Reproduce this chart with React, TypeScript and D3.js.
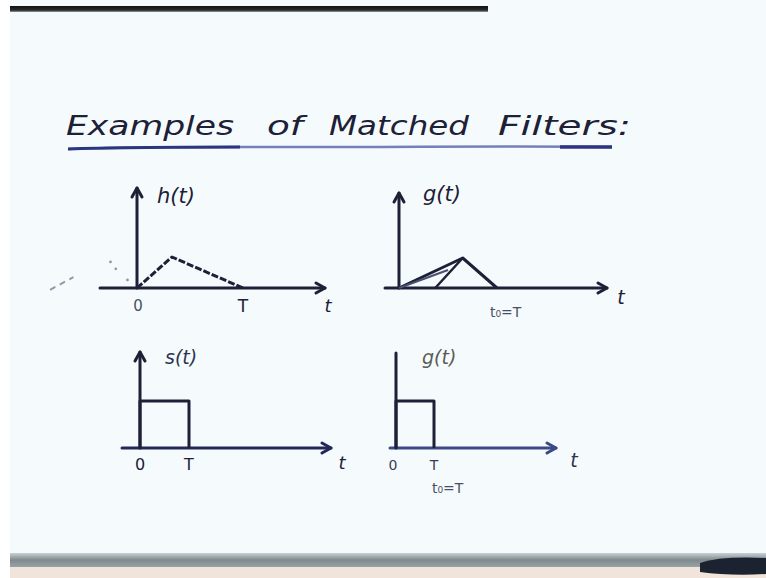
import React from "react";
import * as d3 from "d3";

// Title words of the board heading
const TITLE_WORDS = ["Examples", "of", "Matched", "Filters:"];
const TITLE_X = [66, 267, 329, 498];
const TITLE_W = [168, 36, 140, 133];

// h(t): triangular impulse response, time in units of T
const H_T = [0, 0.33, 1];
const H_V = [0, 1, 0];
// faint sketch of the mirrored pulse left of the origin
const H_GHOST_T = [-0.82, -0.6];
const H_GHOST_V = [-0.06, 0.35];
const H_DOTS_T = [-0.25, -0.2, -0.09];
const H_DOTS_V = [0.84, 0.62, 0.26];

// g(t): filter output for the triangular pulse
const G_T = [0, 0.65, 1];
const G_V = [0, 1, 0];
const G_INNER_T = [0.37, 0.65];
const G_INNER_V = [0, 1];
const G_MID_T = [0, 0.5];
const G_MID_V = [0, 0.6];

// s(t) and g(t): rectangular pulse of width T
const S_T = [0, 0, 1, 1];
const S_V = [0, 1, 1, 0];

const INK = "#1d2036";
const BG = "#f5fbfd";

type Panel = {
  x0: number; // origin x
  y0: number; // origin y
  tPx: number; // pixels for one T
  vPx: number; // pixels for unit height
  axisLeft: number;
  axisRight: number;
  axisTop: number;
  yArrow: boolean;
  axisColor: string;
};

const P1: Panel = { x0: 137, y0: 288, tPx: 106, vPx: 31, axisLeft: 100, axisRight: 325, axisTop: 188, yArrow: true, axisColor: INK };
const P2: Panel = { x0: 399, y0: 288, tPx: 98, vPx: 30, axisLeft: 385, axisRight: 607, axisTop: 193, yArrow: true, axisColor: INK };
const P3: Panel = { x0: 140, y0: 448, tPx: 49, vPx: 47, axisLeft: 122, axisRight: 331, axisTop: 352, yArrow: true, axisColor: "#22285a" };
const P4: Panel = { x0: 396, y0: 448, tPx: 38, vPx: 47, axisLeft: 390, axisRight: 556, axisTop: 353, yArrow: false, axisColor: "#3b4a86" };

function scales(p: Panel) {
  const x = d3.scaleLinear().domain([0, 1]).range([p.x0, p.x0 + p.tPx]);
  const y = d3.scaleLinear().domain([0, 1]).range([p.y0, p.y0 - p.vPx]);
  return { x, y };
}

function curve(p: Panel, ts: number[], vs: number[]) {
  const { x, y } = scales(p);
  const pts: [number, number][] = ts.map((t, i) => [x(t), y(vs[i])]);
  return d3.line()(pts) || "";
}

function Axes({ p }: { p: Panel }) {
  const r = p.axisRight;
  const y = p.y0;
  return (
    <g fill="none" strokeLinecap="round" strokeLinejoin="round">
      <line x1={p.axisLeft} y1={y} x2={r} y2={y} stroke={p.axisColor} strokeWidth={3} />
      <path d={`M${r - 9},${y - 5} L${r},${y} L${r - 9},${y + 5}`} stroke={p.axisColor} strokeWidth={3} />
      <line x1={p.x0} y1={y} x2={p.x0} y2={p.axisTop} stroke={INK} strokeWidth={3} />
      {p.yArrow && (
        <path d={`M${p.x0 - 5},${p.axisTop + 9} L${p.x0},${p.axisTop} L${p.x0 + 5},${p.axisTop + 9}`} stroke={INK} strokeWidth={3} />
      )}
    </g>
  );
}

const hand = "'DejaVu Sans', sans-serif";

export default function App() {
  const s1 = scales(P1);
  return (
    <svg width={766} height={578} style={{ position: "absolute", left: 0, top: 0 }} fontFamily={hand}>
      <defs>
        <linearGradient id="band" x1="0" y1="0" x2="0" y2="1">
          <stop offset="0" stopColor="#c9d1d3" />
          <stop offset="0.5" stopColor="#7f8a8e" />
          <stop offset="1" stopColor="#9aa2a3" />
        </linearGradient>
        <linearGradient id="topbar" x1="0" y1="0" x2="0" y2="1">
          <stop offset="0" stopColor="#101010" />
          <stop offset="0.7" stopColor="#2a2a2a" />
          <stop offset="1" stopColor="#9aa0a2" />
        </linearGradient>
      </defs>
      <rect width={766} height={578} fill={BG} />
      <rect x={0} y={0} width={10} height={578} fill="#ffffff" />

      {/* board frame */}
      <rect x={10} y={6} width={478} height={6} fill="url(#topbar)" />
      <rect x={10} y={553} width={756} height={14} fill="url(#band)" />
      <rect x={10} y={567} width={756} height={11} fill="#f1e4da" />
      <path d="M700,563 Q720,556 766,558 L766,574 Q730,576 700,572 Z" fill="#1b2330" />

      {/* heading */}
      <g fill={INK} fontSize={26} fontStyle="italic">
        {TITLE_WORDS.map((w, i) => (
          <text key={w} x={TITLE_X[i]} y={135} textLength={TITLE_W[i]} lengthAdjust="spacingAndGlyphs">
            {w}
          </text>
        ))}
      </g>
      <path d="M68,149 C150,146 240,147 330,147 S520,146 612,147" stroke="#4a55a0" strokeWidth={2.5} fill="none" opacity={0.75} />
      <path d="M68,149 C120,147 190,147 240,147" stroke="#2c3580" strokeWidth={3} fill="none" />
      <path d="M560,147 L612,147" stroke="#2c3580" strokeWidth={3.5} fill="none" />

      {/* panel 1: h(t) */}
      <Axes p={P1} />
      <path d={curve(P1, H_T, H_V)} stroke={INK} strokeWidth={3} fill="none" strokeDasharray="7 2" strokeLinejoin="round" />
      <path d={curve(P1, H_GHOST_T, H_GHOST_V)} stroke="#8f98ad" strokeWidth={2} fill="none" strokeDasharray="6 5" />
      {H_DOTS_T.map((t, i) => (
        <circle key={i} cx={s1.x(t)} cy={s1.y(H_DOTS_V[i])} r={1.4} fill="#8f98ad" />
      ))}
      <g fill={INK}>
        <text x={157} y={203} fontSize={21} fontStyle="italic">h(t)</text>
        <text x={138} y={311} fontSize={15} textAnchor="middle" fill="#4a4f66">0</text>
        <text x={243} y={312} fontSize={17} textAnchor="middle">T</text>
        <text x={328} y={312} fontSize={18} textAnchor="middle" fontStyle="italic">t</text>
      </g>

      {/* panel 2: g(t) for the triangular pulse */}
      <Axes p={P2} />
      <path d={curve(P2, G_T, G_V)} stroke={INK} strokeWidth={3} fill="none" strokeLinejoin="round" />
      <path d={curve(P2, G_INNER_T, G_INNER_V)} stroke={INK} strokeWidth={2.5} fill="none" />
      <path d={curve(P2, G_MID_T, G_MID_V)} stroke="#4a5070" strokeWidth={2} fill="none" />
      <g fill={INK}>
        <text x={423} y={201} fontSize={21} fontStyle="italic">g(t)</text>
        <text x={490} y={317} fontSize={14} fill="#4a4f66">t₀=T</text>
        <text x={621} y={304} fontSize={19} textAnchor="middle" fontStyle="italic">t</text>
      </g>

      {/* panel 3: s(t) */}
      <Axes p={P3} />
      <path d={curve(P3, S_T, S_V)} stroke={INK} strokeWidth={3} fill="none" strokeLinejoin="round" />
      <g fill={INK}>
        <text x={165} y={364} fontSize={19} fontStyle="italic" fill="#2e3350">s(t)</text>
        <text x={140} y={470} fontSize={16} textAnchor="middle">0</text>
        <text x={189} y={470} fontSize={16} textAnchor="middle">T</text>
        <text x={342} y={469} fontSize={18} textAnchor="middle" fontStyle="italic">t</text>
      </g>

      {/* panel 4: g(t) for the rectangular pulse */}
      <Axes p={P4} />
      <path d={curve(P4, S_T, S_V)} stroke={INK} strokeWidth={3} fill="none" strokeLinejoin="round" />
      <g fill={INK}>
        <text x={422} y={364} fontSize={19} fontStyle="italic" fill="#5a5c58">g(t)</text>
        <text x={393} y={470} fontSize={14} textAnchor="middle" fill="#3a3d52">0</text>
        <text x={434} y={470} fontSize={14} textAnchor="middle" fill="#3a3d52">T</text>
        <text x={574} y={467} fontSize={19} textAnchor="middle" fontStyle="italic" fill="#2e3350">t</text>
        <text x={432} y={493} fontSize={14} fill="#4a4f66">t₀=T</text>
      </g>
    </svg>
  );
}
